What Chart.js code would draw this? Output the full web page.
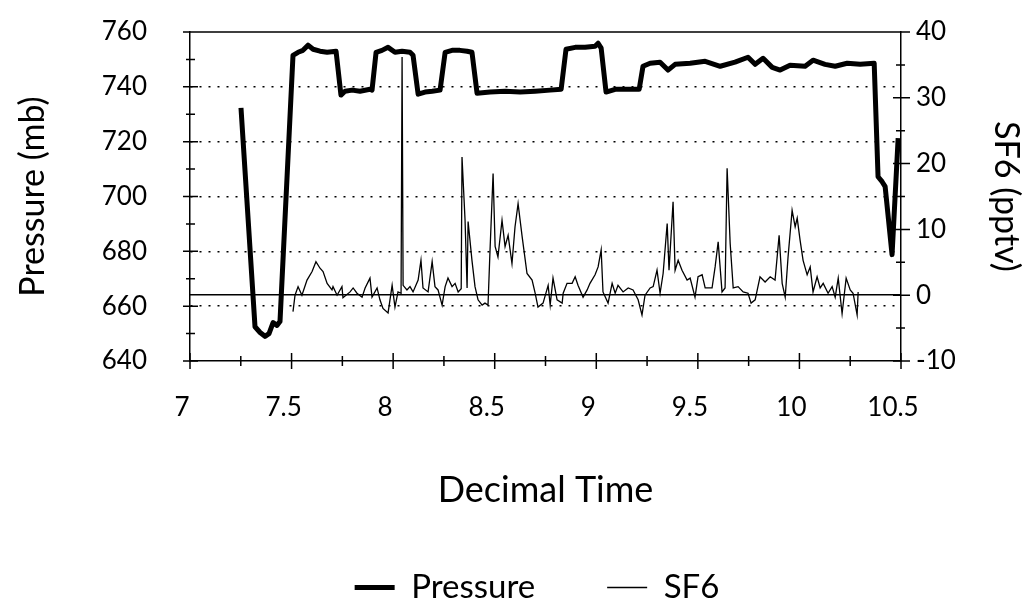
<!DOCTYPE html>
<html>
<head>
<meta charset="utf-8">
<script src="https://cdn.jsdelivr.net/npm/chart.js@4/dist/chart.umd.min.js"></script>
<style>
  html, body { margin: 0; padding: 0; background: #fff; }
  #wrap { width: 1028px; height: 606px; }
</style>
</head>
<body>
<div id="wrap"><canvas id="chart" width="1028" height="606"></canvas></div>
<script>
// Pressure (mb), left axis
const pressureTime = [7.251, 7.320, 7.345, 7.369, 7.389, 7.409, 7.428, 7.443, 7.507, 7.532, 7.556, 7.581, 7.606, 7.640, 7.675, 7.719,
  7.743, 7.763, 7.798, 7.837, 7.886, 7.896, 7.916, 7.945, 7.975, 8.009, 8.044, 8.083, 8.098, 8.123, 8.157, 8.192, 8.231,
  8.256, 8.290, 8.329, 8.364, 8.388, 8.413, 8.477, 8.551, 8.625, 8.699, 8.773, 8.827, 8.851, 8.896, 8.945, 8.994, 9.009,
  9.024, 9.048, 9.093, 9.142, 9.211, 9.230, 9.265, 9.314, 9.353, 9.388, 9.462, 9.536, 9.610, 9.683, 9.747, 9.782, 9.821,
  9.866, 9.905, 9.954, 10.028, 10.067, 10.126, 10.176, 10.235, 10.299, 10.368, 10.387, 10.407, 10.422, 10.456, 10.486]
const pressureValues = [732.3, 652.5, 650.4, 649.0, 650.0, 654.0, 653.0, 654.4, 751.5, 752.6, 753.3, 755.2, 753.7, 753.0, 752.6, 753.0,
  737.0, 738.4, 738.8, 738.4, 739.1, 738.8, 752.6, 753.3, 754.4, 752.6, 753.0, 752.6, 751.5, 737.3, 738.1, 738.4, 738.8,
  752.6, 753.3, 753.3, 753.0, 752.6, 737.7, 738.1, 738.4, 738.1, 738.4, 738.8, 739.1, 753.7, 754.4, 754.4, 754.8, 755.9,
  754.1, 738.1, 739.1, 739.1, 739.1, 747.5, 748.6, 749.0, 746.1, 748.2, 748.6, 749.3, 747.5, 749.0, 750.8, 748.2, 750.4,
  747.1, 746.1, 747.9, 747.5, 749.7, 748.2, 747.5, 748.6, 748.2, 748.6, 707.2, 705.4, 703.6, 678.8, 721.3]

// SF6 (pptv), right axis
const sf6Time = [7.507, 7.517, 7.532, 7.551, 7.576, 7.601, 7.620, 7.640, 7.655, 7.675, 7.699, 7.704, 7.724, 7.748, 7.753, 7.788,
  7.803, 7.822, 7.847, 7.862, 7.886, 7.896, 7.921, 7.935, 7.950, 7.975, 7.995, 8.009, 8.024, 8.039, 8.044, 8.049, 8.068,
  8.083, 8.098, 8.123, 8.137, 8.147, 8.172, 8.192, 8.206, 8.221, 8.241, 8.256, 8.270, 8.290, 8.305, 8.320, 8.335, 8.339,
  8.354, 8.364, 8.369, 8.388, 8.403, 8.418, 8.438, 8.452, 8.467, 8.477, 8.492, 8.502, 8.516, 8.536, 8.551, 8.566, 8.585,
  8.600, 8.615, 8.635, 8.659, 8.684, 8.699, 8.713, 8.738, 8.763, 8.773, 8.787, 8.807, 8.832, 8.837, 8.856, 8.881, 8.896,
  8.910, 8.935, 8.955, 8.969, 8.994, 9.009, 9.024, 9.033, 9.058, 9.078, 9.093, 9.107, 9.132, 9.157, 9.181, 9.206, 9.225,
  9.240, 9.265, 9.280, 9.299, 9.314, 9.329, 9.349, 9.358, 9.378, 9.388, 9.403, 9.422, 9.447, 9.462, 9.486, 9.501, 9.521,
  9.536, 9.570, 9.585, 9.600, 9.619, 9.634, 9.644, 9.659, 9.674, 9.698, 9.723, 9.747, 9.762, 9.782, 9.806, 9.831, 9.856,
  9.880, 9.900, 9.915, 9.930, 9.944, 9.964, 9.979, 9.989, 10.003, 10.018, 10.038, 10.053, 10.067, 10.087, 10.102, 10.117,
  10.141, 10.161, 10.176, 10.191, 10.210, 10.230, 10.250, 10.264, 10.284, 10.289]
const sf6Values = [-2.5, 0.0, 1.3, 0.0, 2.3, 3.6, 5.1, 4.1, 3.6, 1.8, 0.8, 1.3, 0.0, 1.3, -0.4, 0.5,
  1.1, 0.3, -0.3, 1.1, 2.6, -0.3, 1.1, -0.7, -2.0, -2.7, 1.5, -1.8, 0.5, 0.3, 36.2, 1.5, 0.8,
  1.3, 0.5, 2.3, 5.3, 1.1, 0.5, 5.1, 1.3, 0.8, -1.5, 1.3, 2.6, 1.3, 1.8, 0.5, 1.0, 21.0,
  11.4, 1.1, 11.2, 5.3, 1.3, -0.7, -1.5, -1.2, -1.5, 6.9, 18.5, 7.4, 5.8, 11.4, 7.4, 9.1, 4.8,
  10.4, 13.9, 8.9, 3.3, 2.3, 0.3, -1.8, -1.2, 1.5, -1.5, 2.6, -0.7, -1.2, 0.3, 1.8, 1.8, 2.8,
  1.5, -0.3, 0.8, 1.8, 3.1, 4.3, 6.9, 0.5, -1.2, 1.8, 0.3, 1.5, 0.5, 1.1, 0.8, -0.7, -3.0,
  0.0, 1.1, 1.3, 3.8, 0.3, 3.3, 10.9, 3.8, 14.2, 3.8, 5.3, 3.8, 2.3, 2.6, -0.3, 2.8, 3.1,
  1.1, 1.1, 4.3, 8.1, 0.5, 1.1, 19.3, 7.9, 1.1, 1.3, 0.5, 0.3, -1.2, -0.7, 2.8, 2.0, 2.8,
  2.3, 9.1, 1.8, -0.3, 5.8, 12.9, 10.4, 11.7, 8.4, 5.3, 3.1, 4.3, 0.5, 2.8, 1.1, 1.8,
  0.3, 1.3, -0.3, 2.6, -2.8, 2.6, 0.8, 0.3, -3.0, 0.5]

// tick labels
const timeTicks = [7, 7.5, 8, 8.5, 9, 9.5, 10, 10.5]
const pressureTicks = [640, 660, 680, 700, 720, 740, 760]
const sf6Ticks = [-10, 0, 10, 20, 30, 40]

const toPoints = (xs, ys) => xs.map((x, i) => ({ x, y: ys[i] }))

Chart.defaults.font.family = "Lato, 'DejaVu Sans', sans-serif"
Chart.defaults.color = '#000'

// keep the label padding from pushing the plot area around
const noEdgePadding = (s) => {
  s.paddingTop = 0
  s.paddingBottom = 0
  s.paddingLeft = 0
  s.paddingRight = 0
}

// tick marks that cross the axis lines, plus the top frame line
const axisMarks = {
  id: 'axisMarks',
  afterLayout(chart) {
    const lg = chart.legend
    lg.left += 23
    lg.right += 23
    lg.top += 8
    lg.bottom += 8
  },
  afterDraw(chart) {
    const { ctx, chartArea: a, scales } = chart
    const { x, y, y1 } = scales
    ctx.save()
    ctx.strokeStyle = '#000'
    ctx.lineWidth = 1.5
    ctx.beginPath()
    ctx.moveTo(a.left - 7, a.top)
    ctx.lineTo(a.right, a.top)
    for (let v = y.min; v <= y.max; v += 10) {
      const py = y.getPixelForValue(v)
      const major = v % 20 === 0
      ctx.moveTo(a.left - (major ? 7 : 4), py)
      ctx.lineTo(a.left + (major ? 8 : 5), py)
    }
    for (let v = y1.min; v <= y1.max; v += 5) {
      const py = y1.getPixelForValue(v)
      const major = v % 10 === 0
      ctx.moveTo(a.right - (major ? 8 : 5), py)
      ctx.lineTo(a.right + (major ? 9 : 4), py)
    }
    for (let v = x.min; v <= x.max + 1e-9; v += 0.25) {
      const px = x.getPixelForValue(v)
      const major = Math.abs(v * 2 - Math.round(v * 2)) < 1e-6
      ctx.moveTo(px, a.bottom - (major ? 8 : 5))
      ctx.lineTo(px, a.bottom + (major ? 8 : 5))
    }
    ctx.stroke()
    ctx.restore()
  }
}

new Chart(document.getElementById('chart'), {
  type: 'line',
  data: {
    datasets: [
      {
        label: 'Pressure',
        data: toPoints(pressureTime, pressureValues),
        yAxisID: 'y',
        borderColor: '#000',
        backgroundColor: '#000',
        borderWidth: 5,
        borderJoinStyle: 'round',
        pointRadius: 0,
        tension: 0
      },
      {
        label: 'SF6',
        data: toPoints(sf6Time, sf6Values),
        yAxisID: 'y1',
        borderColor: '#000',
        backgroundColor: '#000',
        borderWidth: 1.3,
        pointRadius: 0,
        tension: 0
      }
    ]
  },
  options: {
    responsive: false,
    animation: false,
    devicePixelRatio: 1,
    layout: { padding: { top: 32, left: 0, right: 0, bottom: 0 } },
    plugins: {
      legend: {
        position: 'bottom',
        labels: {
          usePointStyle: true,
          pointStyle: 'line',
          pointStyleWidth: 40,
          padding: 72,
          color: '#000',
          font: { size: 33 }
        }
      },
      tooltip: { enabled: false }
    },
    scales: {
      x: {
        type: 'linear',
        min: 7,
        max: 10.5,
        afterBuildTicks: (s) => { s.ticks = timeTicks.map((v) => ({ value: v })) },
        ticks: { font: { size: 26 }, padding: 31, labelOffset: -8, maxRotation: 0, autoSkip: false, callback: (v) => String(v) },
        grid: { display: false, drawTicks: false },
        border: { display: true, color: '#000', width: 1.5 },
        title: { display: true, text: 'Decimal Time', font: { size: 36 }, padding: { top: 0, bottom: -21 } },
        afterFit: (s) => {
          noEdgePadding(s)
          s.height = s.chart.height - 361 - s.chart.legend.height
        }
      },
      y: {
        position: 'left',
        min: 640,
        max: 760,
        afterBuildTicks: (s) => { s.ticks = pressureTicks.map((v) => ({ value: v })) },
        ticks: { font: { size: 26 }, padding: 43 },
        grid: {
          drawTicks: false,
          lineWidth: 1.5,
          color: (c) => (c.tick && c.tick.value > 640 && c.tick.value < 760 ? '#000' : 'rgba(0,0,0,0)')
        },
        border: { color: '#000', width: 1.5, dash: [2, 7] },
        title: { display: true, text: 'Pressure (mb)', font: { size: 34 }, padding: { top: 13, bottom: 0 } },
        afterFit: (s) => {
          noEdgePadding(s)
          s.width = 190
        }
      },
      y1: {
        position: 'right',
        min: -10,
        max: 40,
        afterBuildTicks: (s) => { s.ticks = sf6Ticks.map((v) => ({ value: v })) },
        ticks: { font: { size: 26 }, padding: 15 },
        grid: {
          drawTicks: false,
          lineWidth: 1.5,
          color: (c) => (c.tick && c.tick.value === 0 ? '#000' : 'rgba(0,0,0,0)')
        },
        border: { color: '#000', width: 1.5 },
        title: { display: true, text: 'SF6 (pptv)', font: { size: 34 }, padding: { top: 2, bottom: 0 } },
        afterFit: (s) => {
          noEdgePadding(s)
          s.width = 127
        }
      }
    }
  },
  plugins: [axisMarks]
})
</script>
</body>
</html>
